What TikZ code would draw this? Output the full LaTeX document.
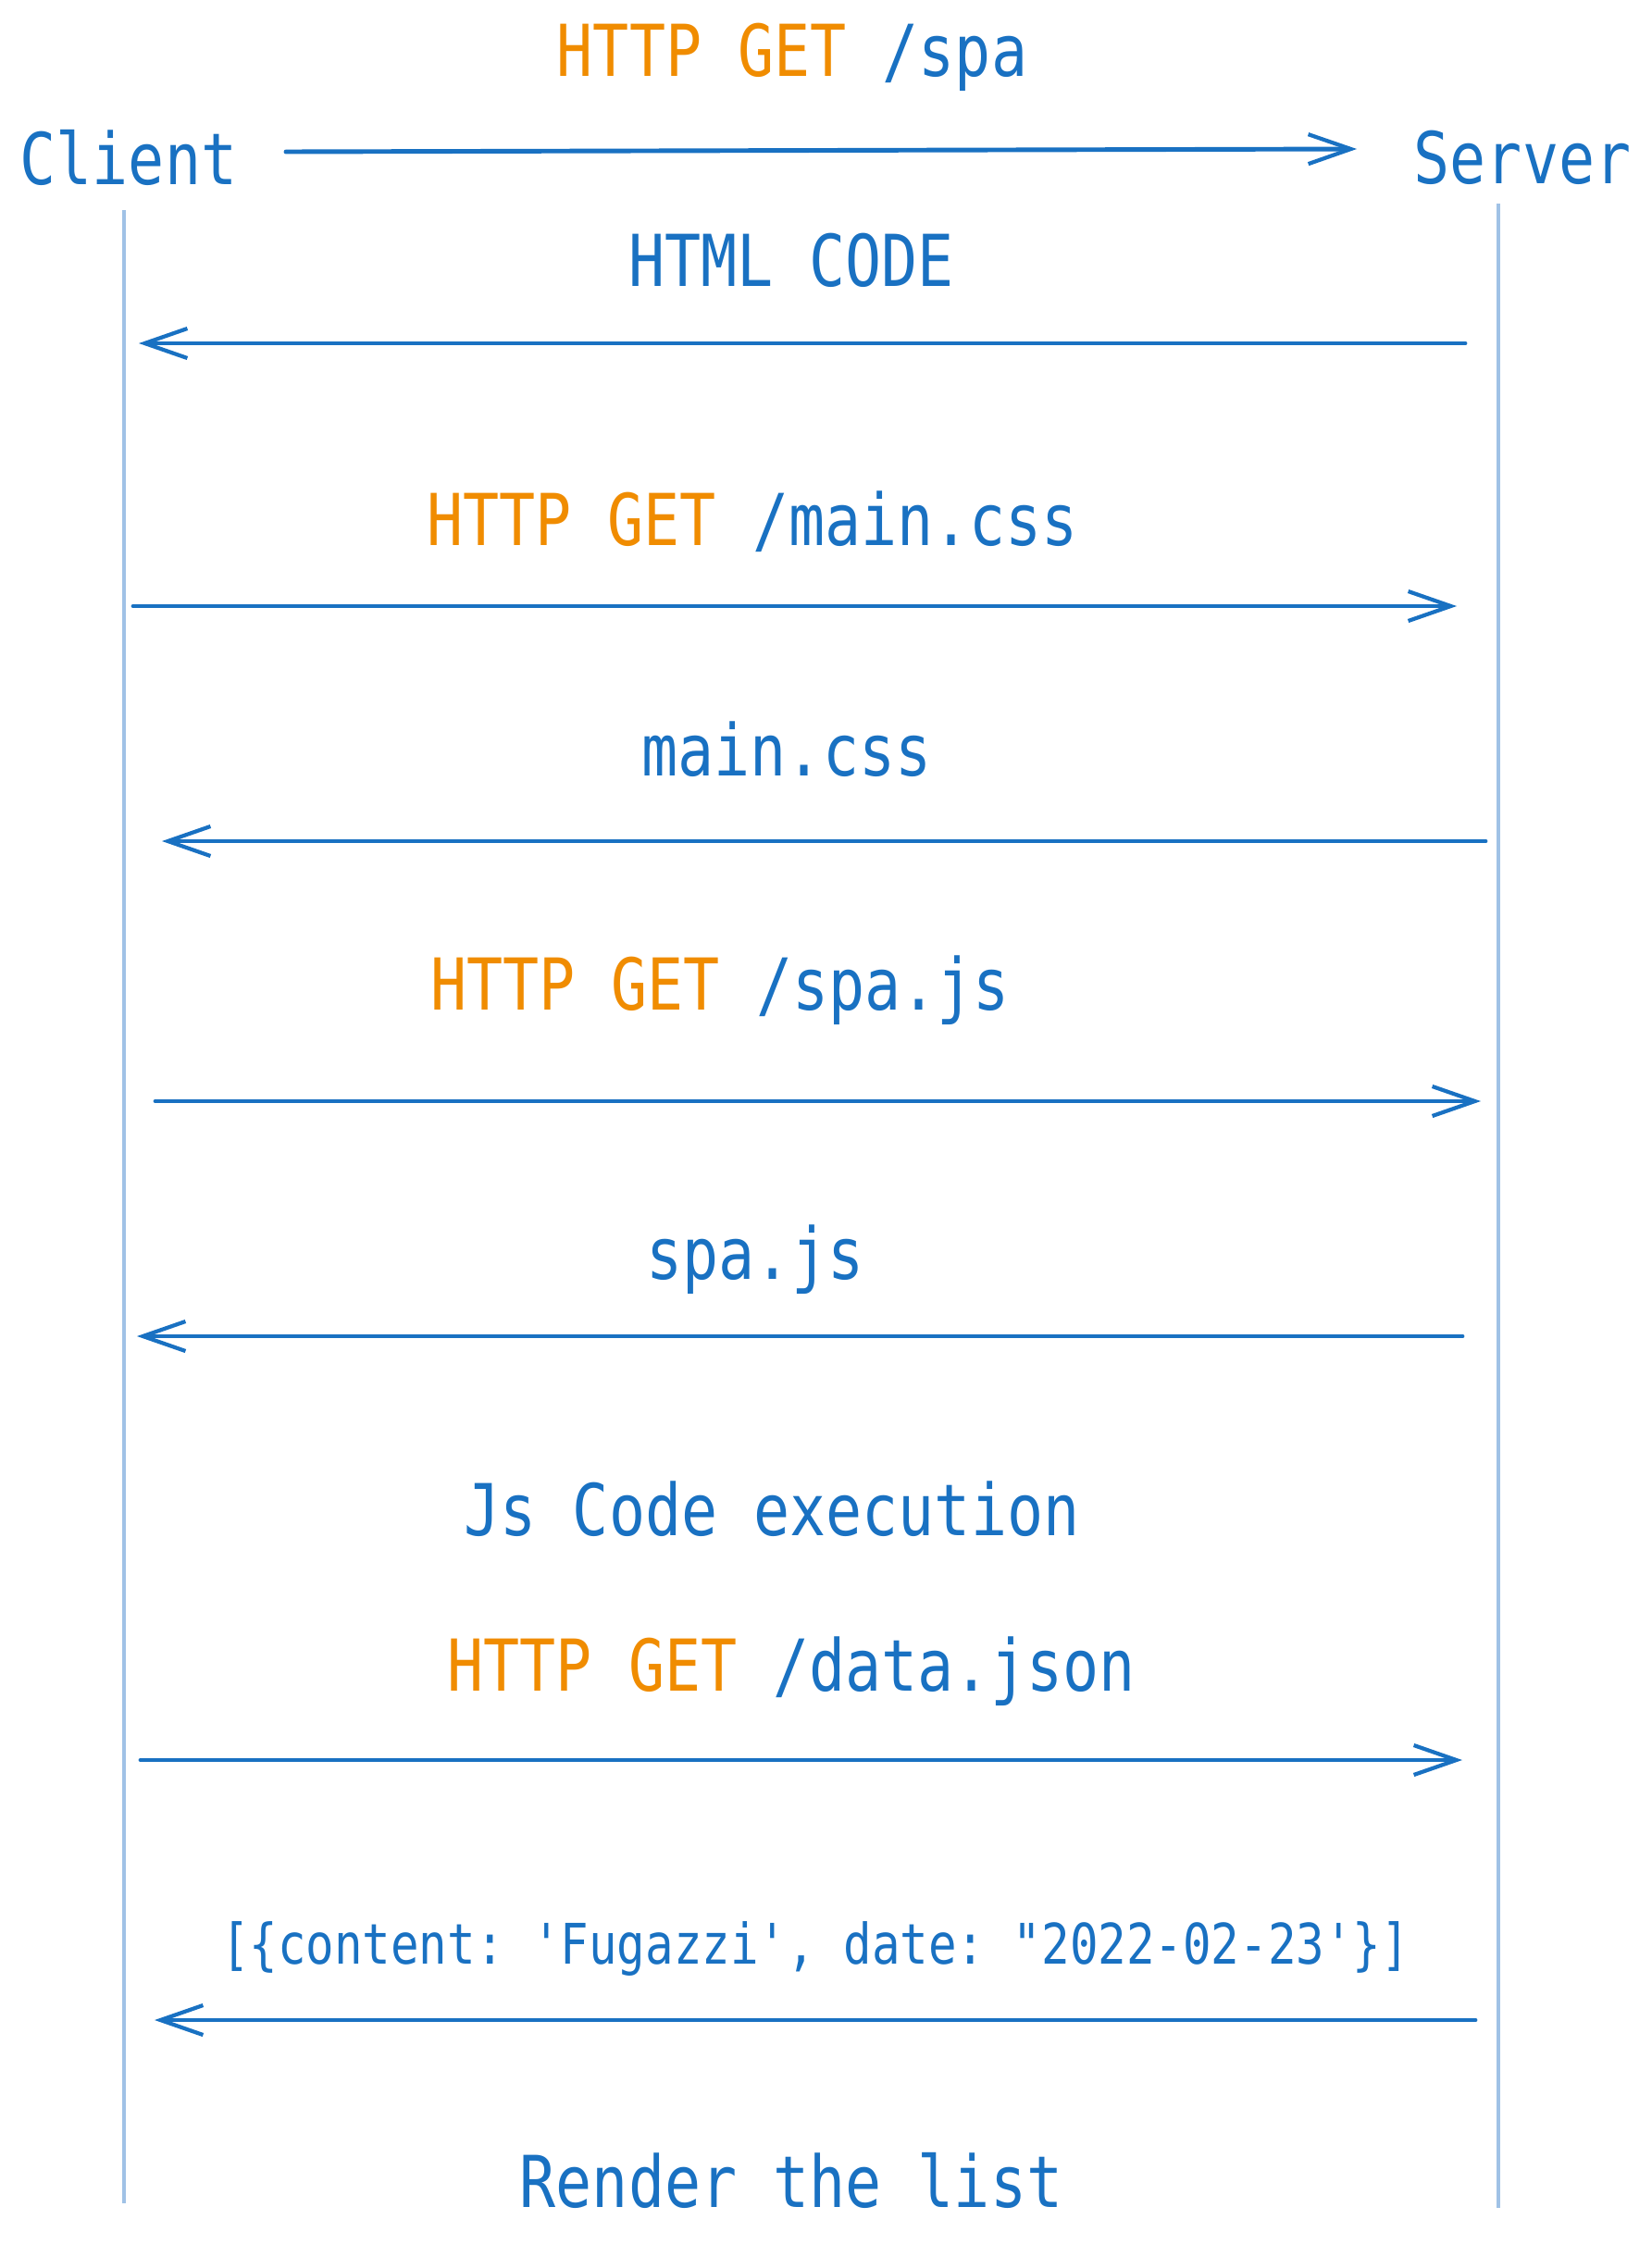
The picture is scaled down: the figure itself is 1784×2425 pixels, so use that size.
\documentclass[tikz,border=0pt]{standalone}
\usepackage{fontspec}
\setmainfont[FakeStretch=0.84]{DejaVu Sans Mono}
\setmonofont[FakeStretch=0.84]{DejaVu Sans Mono}
\usepackage{tikz}
\usetikzlibrary{arrows.meta}
\usetikzlibrary{positioning}
\definecolor{exblue}{RGB}{25, 113, 194}
\definecolor{exorange}{RGB}{240, 140, 0}
\definecolor{exlife}{RGB}{160, 194, 230}
\tikzset{
  lbl/.style={text=exblue, font=\ttfamily\fontsize{22}{26}\selectfont, inner sep=0pt},
  small lbl/.style={text=exblue, font=\ttfamily\fontsize{17.2}{20}\selectfont, inner sep=0pt},
  msg/.style={draw=exblue, line width=1.4pt, line cap=round, -{Straight Barb[length=4.6mm, width=3.2mm, line width=1.2pt]}},
  lifeline/.style={draw=exlife, line width=1.1pt},
}
\newcommand{\get}{\textcolor{exorange}{HTTP GET} }
\newcommand{\sq}{\symbol{39}}
\newcommand{\dq}{\symbol{34}}
\begin{document}
\begin{tikzpicture}[x=0.1mm, y=-0.1mm]
            \useasboundingbox[fill=white] (0, 0) rectangle (1784, 2425);
            \node[lbl] (client) at ( 139, 170) {Client};
            \node[lbl] (server) at (1645, 170) {Server};
            \draw[lifeline] ( 134, 227) -- ( 134, 2381);
            \draw[lifeline] (1619, 220) -- (1619, 2386);
            \node[lbl] (req1) at ( 856,   62) {\get/spa};
            \node[lbl] (res1) at ( 855,  281) {HTML CODE};
            \node[lbl] (req2) at ( 813,  564) {\get/main.css};
            \node[lbl] (res2) at ( 850,  810) {main.css};
            \node[lbl] (req3) at ( 778, 1070) {\get/spa.js};
            \node[lbl] (res3) at ( 816, 1361) {spa.js};
            \node[lbl] (exec) at ( 834, 1631) {Js Code execution};
            \node[lbl] (req4) at ( 855, 1806) {\get/data.json};
            \node[small lbl] (res4) at ( 881, 2106) {[\{content: \sq Fugazzi\sq, date: \dq 2022-02-23\sq\}]};
            \node[lbl] (render) at ( 855, 2356) {Render the list};
            \coordinate (a1s) at ( 309,  164); \coordinate (a1e) at (1466,  161);
            \coordinate (a2s) at (1583,  371); \coordinate (a2e) at ( 150,  371);
            \coordinate (a3s) at ( 144,  655); \coordinate (a3e) at (1574,  655);
            \coordinate (a4s) at (1605,  909); \coordinate (a4e) at ( 175,  909);
            \coordinate (a5s) at ( 168, 1190); \coordinate (a5e) at (1600, 1190);
            \coordinate (a6s) at (1580, 1444); \coordinate (a6e) at ( 148, 1444);
            \coordinate (a7s) at ( 152, 1902); \coordinate (a7e) at (1580, 1902);
            \coordinate (a8s) at (1594, 2183); \coordinate (a8e) at ( 167, 2183);
            \draw[msg] (a1s) -- (a1e);
            \draw[msg] (a2s) -- (a2e);
            \draw[msg] (a3s) -- (a3e);
            \draw[msg] (a4s) -- (a4e);
            \draw[msg] (a5s) -- (a5e);
            \draw[msg] (a6s) -- (a6e);
            \draw[msg] (a7s) -- (a7e);
            \draw[msg] (a8s) -- (a8e);
        \end{tikzpicture}
\end{document}
